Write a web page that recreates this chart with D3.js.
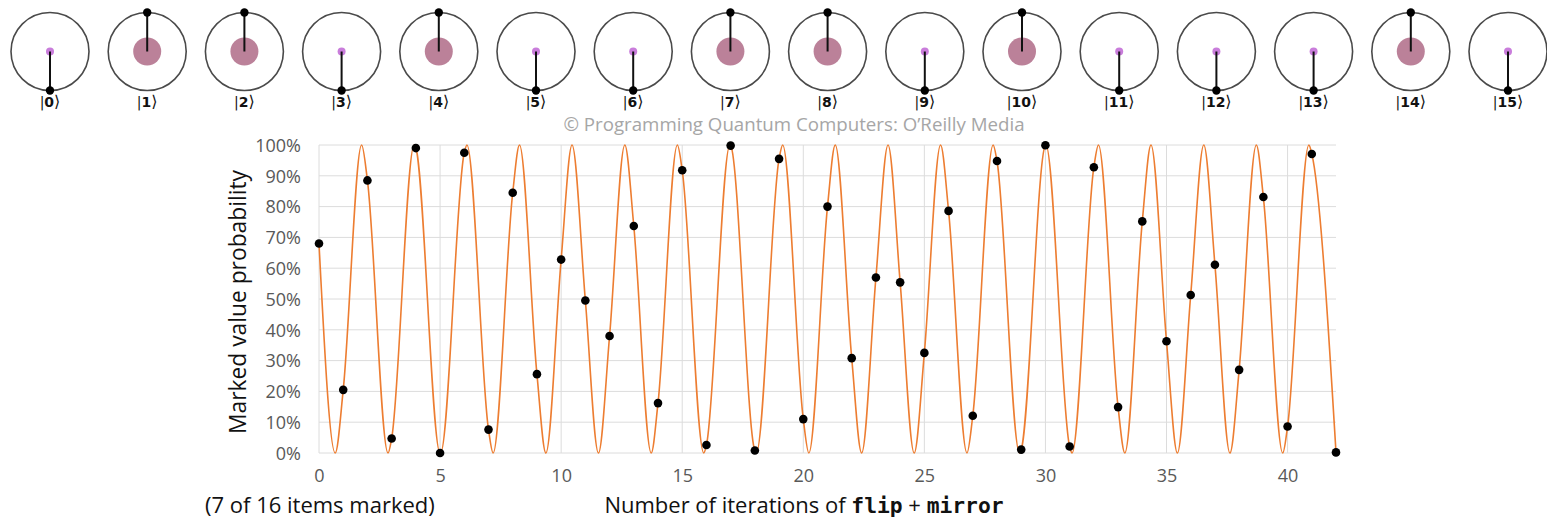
<!DOCTYPE html>
<html>
<head>
<meta charset="utf-8">
<script src="https://cdn.jsdelivr.net/npm/d3@7"></script>
<style>
  html, body { margin: 0; padding: 0; background: #fff; }
  svg { display: block; }
</style>
</head>
<body>
<svg id="chart" width="1547" height="521"></svg>
<script>
// ---------- DATA ----------
const stateLabels = ["0","1","2","3","4","5","6","7","8","9","10","11","12","13","14","15"];
const stateMarked = [false,true,true,false,true,false,false,true,true,false,true,false,false,false,true,false];

// probability of marked value after n iterations, n = 0..42
const iterations = [0,1,2,3,4,5,6,7,8,9,10,11,12,13,14,15,16,17,18,19,20,
                    21,22,23,24,25,26,27,28,29,30,31,32,33,34,35,36,37,38,39,40,41,42];
const probabilities = [0.68,0.205,0.885,0.047,0.99,0.0,0.975,0.076,0.845,0.256,0.628,
                       0.495,0.38,0.737,0.162,0.918,0.026,0.998,0.008,0.955,0.11,
                       0.80,0.308,0.57,0.554,0.325,0.786,0.121,0.948,0.011,0.999,
                       0.021,0.928,0.149,0.752,0.363,0.513,0.611,0.27,0.831,0.086,0.971,0.002];

// continuous curve extrema (x in iterations)
const curvePeaksX = [1.76,3.93,6.11,8.28,10.45,12.63,14.80,16.97,19.15,21.32,23.50,
                     25.67,27.84,30.02,32.19,34.36,36.54,38.71,40.88];
const curveTroughsX = [0.67,2.85,5.02,7.19,9.37,11.54,13.72,15.89,18.06,20.23,22.41,
                       24.58,26.76,28.93,31.10,33.28,35.45,37.62,39.80];

const yTicks = [0,0.1,0.2,0.3,0.4,0.5,0.6,0.7,0.8,0.9,1.0];
const xTicks = [0,5,10,15,20,25,30,35,40];

// ---------- DRAW ----------
const svg = d3.select("#chart");
const FONT = "'Open Sans', 'Noto Sans', sans-serif";

// --- state circles row ---
const sx = d3.scaleLinear().domain([0, 15]).range([50, 1508]);
const cy = 51.5, R = 39;
const row = svg.append("g");
const st = row.selectAll("g.state").data(stateLabels.map((l, i) => ({l, i, m: stateMarked[i]})))
  .enter().append("g").attr("class", "state")
  .attr("transform", d => `translate(${sx(d.i)},${cy})`);
st.append("circle").attr("r", R).attr("fill", "none").attr("stroke", "#4a4a4a").attr("stroke-width", 1.6);
st.append("circle").attr("r", d => d.m ? 14 : 4)
  .attr("fill", d => d.m ? "#bb8199" : "#c97ddb");
st.append("line").attr("x1", 0).attr("y1", 0).attr("x2", 0)
  .attr("y2", d => d.m ? -R : R).attr("stroke", "#111").attr("stroke-width", 2);
st.append("circle").attr("cx", 0).attr("cy", d => d.m ? -R : R).attr("r", 4.2).attr("fill", "#000");
const lbl = st.append("text").attr("y", 55).attr("text-anchor", "middle")
  .attr("font-family", "'DejaVu Sans', sans-serif").attr("font-size", 14).attr("fill", "#111");
lbl.append("tspan").attr("font-weight", "normal").text("|");
lbl.append("tspan").attr("font-weight", "bold").text(d => d.l);
lbl.append("tspan").attr("font-size", 16).text("\u27E9");

// --- copyright ---
svg.append("text").attr("x", 794).attr("y", 131).attr("text-anchor", "middle")
  .attr("font-family", FONT).attr("font-size", 18.7).attr("fill", "#a6a6a6")
  .text("\u00A9 Programming Quantum Computers: O\u2019Reilly Media");

// --- plot ---
const x = d3.scaleLinear().domain([0, 42]).range([319, 1336]);
const y = d3.scaleLinear().domain([0, 1]).range([453, 145]);

const grid = svg.append("g");
grid.selectAll("line.h").data(yTicks).enter().append("line")
  .attr("x1", x(0)).attr("x2", x(42)).attr("y1", d => y(d)).attr("y2", d => y(d))
  .attr("stroke", "#dcdcdc").attr("stroke-width", 1);
grid.selectAll("line.v").data(xTicks).enter().append("line")
  .attr("x1", d => x(d)).attr("x2", d => x(d)).attr("y1", y(0)).attr("y2", y(1))
  .attr("stroke", "#dcdcdc").attr("stroke-width", 1);

// y axis labels
const yAxis = d3.axisLeft(y).tickValues(yTicks).tickFormat(d3.format(".0%")).tickSize(0).tickPadding(0);
const ya = svg.append("g").attr("transform", `translate(301,0)`).call(yAxis);
ya.select(".domain").remove();
ya.selectAll("text").attr("font-family", FONT).attr("font-size", 18).attr("fill", "#595959").attr("dy", "0.35em");

// x axis labels
const xAxis = d3.axisBottom(x).tickValues(xTicks).tickFormat(d3.format("d")).tickSize(0).tickPadding(0);
const xa = svg.append("g").attr("transform", `translate(0,${y(0) + 16})`).call(xAxis);
xa.select(".domain").remove();
xa.selectAll("text").attr("font-family", FONT).attr("font-size", 18).attr("fill", "#595959").attr("dy", "0.71em");

// curve
const curvePts = []
  .concat(iterations.map((n, i) => ({x: n, y: probabilities[i]})))
  .concat(curvePeaksX.map(v => ({x: v, y: 1})))
  .concat(curveTroughsX.map(v => ({x: v, y: 0})))
  .sort((a, b) => a.x - b.x);
const line = d3.line().x(d => x(d.x)).y(d => y(d.y)).curve(d3.curveMonotoneX);
svg.append("path").datum(curvePts).attr("d", line)
  .attr("fill", "none").attr("stroke", "#ed7d31").attr("stroke-width", 1.6);

// dots
svg.append("g").selectAll("circle").data(iterations).enter().append("circle")
  .attr("cx", d => x(d)).attr("cy", (d, i) => y(probabilities[i])).attr("r", 4.3).attr("fill", "#000");

// axis titles
svg.append("text").attr("transform", `translate(246,302) rotate(-90)`).attr("text-anchor", "middle")
  .attr("font-family", FONT).attr("font-size", 22.8).attr("fill", "#111")
  .text("Marked value probability");

svg.append("text").attr("x", 205).attr("y", 513).attr("font-family", FONT).attr("font-size", 22).attr("fill", "#111")
  .text("(7 of 16 items marked)");

const xt = svg.append("text").attr("x", 804).attr("y", 513).attr("text-anchor", "middle")
  .attr("font-family", FONT).attr("font-size", 22).attr("fill", "#111");
xt.append("tspan").text("Number of iterations of ");
xt.append("tspan").attr("font-family", "'DejaVu Sans Mono', monospace").attr("font-weight", "bold").attr("font-size", 21.3).text("flip");
xt.append("tspan").text(" + ");
xt.append("tspan").attr("font-family", "'DejaVu Sans Mono', monospace").attr("font-weight", "bold").attr("font-size", 21.3).text("mirror");
</script>
</body>
</html>
